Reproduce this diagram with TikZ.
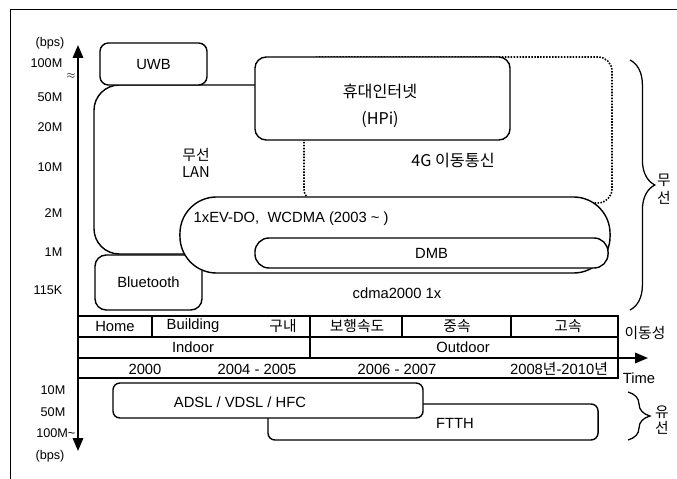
\documentclass[tikz,border=0pt]{standalone}
\usepackage{fontspec}
\setmainfont{Liberation Sans}
\newfontfamily\kr{Noto Sans CJK KR}
\usetikzlibrary{arrows.meta,decorations.pathreplacing}

\begin{document}
\begin{tikzpicture}[x=0.025cm, y=-0.025cm,
  box/.style={draw, line width=1pt, fill=white, inner sep=0pt, align=center,
              font=\fontsize{10.5}{12.5}\selectfont},
  lbl/.style={font=\fontsize{10.5}{12.5}\selectfont, inner sep=1pt, align=center},
  klbl/.style={font=\kr\fontsize{10.5}{12.5}\selectfont, inner sep=1pt, align=center},
  tick/.style={font=\fontsize{9}{11}\selectfont, inner sep=1pt},
  grid/.style={line width=0.9pt},
  ax/.style={line width=1.1pt, -{Triangle[length=3.2mm, width=2.6mm]}},
  brc/.style={decorate, decoration={brace, amplitude=#1}, line width=0.9pt}
]
  \useasboundingbox (0,0) rectangle (677,479);
  \draw[line width=0.6pt] (10,479) -- (10,9) -- (677,9);

  % wireless
  \draw[line width=1pt, rounded corners=18pt] (304,85) -- (94,85) -- (94,254) -- (304,254);
  \draw[densely dotted, line width=1.1pt, rounded corners=10pt] (304,57) rectangle (612,203);

  \node[box, rounded corners=6pt, minimum width=2.675cm, minimum height=1.05cm]
       (uwb) at (153.5,64) {UWB};
  \node[box, rounded corners=8pt, minimum width=6.375cm, minimum height=2.075cm]
       (hpi) at (382.5,98.5) {};
  \node[klbl, font=\kr\fontsize{11.5}{19}\selectfont] (hpitxt) at (380,106) {휴대인터넷\\(HPi)};
  \node[box, rounded corners=8pt, minimum width=2.675cm, minimum height=1.375cm]
       (bt) at (148.5,282.5) {Bluetooth};
  \node[box, rounded corners=26pt, minimum width=10.75cm, minimum height=1.9cm]
       (evdo) at (395,235) {};
  \node[lbl, anchor=west] (evdotxt) at (192,219) {1xEV-DO,\ \ WCDMA (2003 \textasciitilde\ )};
  \node[box, rounded corners=10pt, minimum width=8.825cm, minimum height=0.75cm]
       (dmb) at (431.5,253) {DMB};

  \node[klbl] (lan) at (196,163) {무선\\LAN};
  \node[klbl, font=\kr\fontsize{11.5}{13}\selectfont] (g4) at (453,160) {4G 이동통신};
  \node[lbl] (cdma) at (397,293) {cdma2000 1x};

  % mobility / time table
  \draw[grid] (78,316) -- (618,316) -- (618,378) -- (78,378);
  \draw[grid] (78,337) -- (618,337);
  \draw[grid] (152,316) -- (152,337);
  \draw[grid] (310,316) -- (310,358);
  \draw[grid] (402,316) -- (402,337);
  \draw[grid] (511,316) -- (511,337);

  \node[lbl] (home) at (115,326) {Home};
  \node[lbl] (bldg) at (193,326) {Building};
  \node[klbl] (gunae) at (283,326) {구내};
  \node[klbl] (walk) at (357,326) {보행속도};
  \node[klbl] (mid) at (457,326) {중속};
  \node[klbl] (high) at (568,326) {고속};
  \node[lbl] (indoor) at (193,347) {Indoor};
  \node[lbl] (outdoor) at (463,347) {Outdoor};
  \node[lbl] (y1) at (145,369) {2000};
  \node[lbl] (y2) at (257,369) {2004 - 2005};
  \node[lbl] (y3) at (397,369) {2006 - 2007};
  \node[lbl] (y4) at (559,369) {2008{\kr 년}-2010{\kr 년}};
  \node[klbl] (mob) at (645,333) {이동성};
  \node[lbl] (time) at (639,378) {Time};

  % axes
  \coordinate (ytop) at (78,45);
  \coordinate (ybot) at (78,451);
  \coordinate (t0) at (78,358);
  \coordinate (t1) at (648,358);
  \draw[ax, {Triangle[length=3.2mm, width=2.6mm]}-{Triangle[length=3.2mm, width=2.6mm]}] (ytop) -- (ybot);
  \draw[ax] (t0) -- (t1);

  \node[tick] (bpsup) at (50,43) {(bps)};
  \foreach \v/\yy [count=\i] in {100M/63, 50M/97, 20M/127, 10M/167, 2M/213, 1M/252, 115K/290}
    \node[tick, anchor=east] (up\i) at (64,\yy) {\v};
  \node[font=\scriptsize, inner sep=0pt] (brk) at (71,76) {$\approx$};
  \foreach \v/\yy [count=\i] in {10M/390, 50M/412}
    \node[tick, anchor=east] (dn\i) at (67,\yy) {\v};
  \node[tick, anchor=east] (dn3) at (77,433) {100M\textasciitilde};
  \node[tick] (bpsdn) at (50,456) {(bps)};

  % wired
  \node[box, rounded corners=5pt, minimum width=8.25cm, minimum height=0.9cm]
       (ftth) at (433,422) {};
  \node[lbl] (ftthtxt) at (455,423) {FTTH};
  \node[box, rounded corners=5pt, minimum width=7.75cm, minimum height=0.875cm]
       (adsl) at (268,400.5) {};
  \node[lbl] (adsltxt) at (240,402) {ADSL / VDSL / HFC};

  % braces
  \coordinate (wl0) at (630,60);
  \coordinate (wl1) at (630,310);
  \draw[brc=0.62cm] (wl0) -- (wl1);
  \node[klbl, font=\kr\fontsize{10.5}{12.5}\selectfont] (wless) at (664,189) {무\\선};
  \coordinate (wd0) at (628,392);
  \coordinate (wd1) at (628,440);
  \draw[brc=0.55cm] (wd0) -- (wd1);
  \node[klbl, font=\kr\fontsize{10.5}{11}\selectfont] (wired) at (662,420) {유\\선};
\end{tikzpicture}
\end{document}
